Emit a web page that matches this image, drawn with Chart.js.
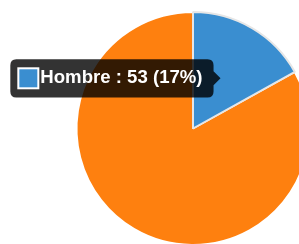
<!DOCTYPE html>
<html>
<head>
<meta charset="utf-8">
<script src="https://cdn.jsdelivr.net/npm/chart.js@4/dist/chart.umd.min.js"></script>
<style>
  html, body { margin: 0; padding: 0; overflow: hidden; background: #fff; width: 299px; height: 244px; }
  #pieChart { position: absolute; left: 0; top: 0; }
</style>
</head>
<body>
<canvas id="pieChart" width="386" height="257"></canvas>
<script>
const labels = ['Hombre', 'Mujer'];
const valores = [53, 260];
const cores = ['#3a8ed0', '#fe800f'];

const ctx = document.getElementById('pieChart').getContext('2d');

const chart = new Chart(ctx, {
  type: 'pie',
  data: {
    labels: labels,
    datasets: [{
      data: valores,
      backgroundColor: cores,
      hoverBackgroundColor: cores,
      borderColor: '#fff',
      borderWidth: 2,
      hoverOffset: 0
    }]
  },
  options: {
    responsive: false,
    devicePixelRatio: 1,
    animation: false,
    layout: { padding: 11 },
    plugins: {
      legend: { display: false },
      tooltip: {
        backgroundColor: 'rgba(0,0,0,0.8)',
        bodyFont: { family: 'Liberation Sans, Arial, sans-serif', size: 18.6, weight: 'bold' },
        bodyColor: '#fff',
        padding: { left: 8, right: 11, top: 8, bottom: 8 },
        caretSize: 7,
        caretPadding: 2,
        cornerRadius: 6,
        boxWidth: 20,
        boxHeight: 20,
        callbacks: {
          title: () => '',
          label: (item) => {
            const total = item.dataset.data.reduce((a, b) => a + b, 0);
            const pct = Math.round(item.raw / total * 100);
            return `${item.label} : ${item.raw} (${pct}%)`;
          }
        }
      }
    }
  }
});

const ativo = [{ datasetIndex: 0, index: 0 }];
chart.setActiveElements(ativo);
const el = chart.getDatasetMeta(0).data[0].tooltipPosition();
chart.tooltip.setActiveElements(ativo, { x: el.x, y: el.y });
chart.update();
</script>
</body>
</html>
